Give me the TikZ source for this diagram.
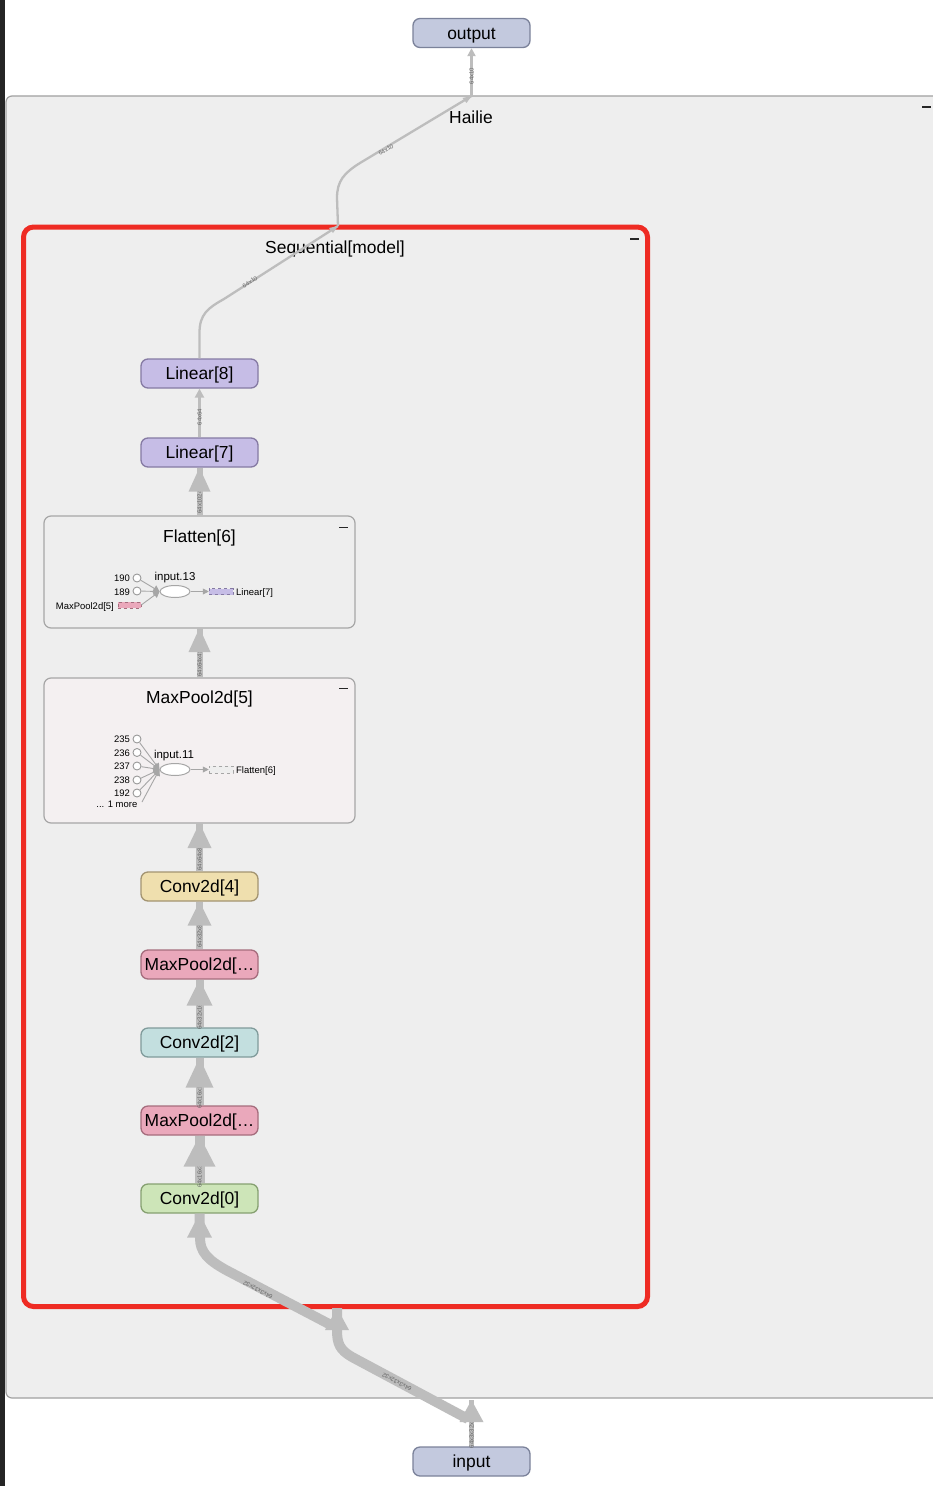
\documentclass[tikz,border=0pt]{standalone}
\usepackage{fontspec}
\setmainfont{Liberation Sans}
\usetikzlibrary{arrows.meta,shapes.geometric,calc}
\definecolor{edgegray}{HTML}{BDBDBD}
\definecolor{clusterbg}{HTML}{EEEEEE}
\definecolor{clusterline}{HTML}{A0A0A0}
\definecolor{redbox}{HTML}{EE2B23}
\definecolor{iofill}{HTML}{C3C9DE}\definecolor{ioline}{HTML}{7B829A}
\definecolor{linfill}{HTML}{C6BDE6}\definecolor{linline}{HTML}{857AA3}
\definecolor{c4fill}{HTML}{EFDFAE}\definecolor{c4line}{HTML}{A39471}
\definecolor{mpfill}{HTML}{EAA8BB}\definecolor{mpline}{HTML}{A56D7D}
\definecolor{c2fill}{HTML}{C3DFDF}\definecolor{c2line}{HTML}{809B9B}
\definecolor{c0fill}{HTML}{CDE5B8}\definecolor{c0line}{HTML}{86A071}
\definecolor{mp5fill}{HTML}{F4F0F1}
\definecolor{strip}{HTML}{252525}
\tikzset{
  opnode/.style={draw, rounded corners=7bp, minimum width=117bp, minimum height=29bp, line width=1.3bp, inner sep=0pt, text height=12.5bp, text depth=0bp, font=\fontsize{17.5}{20}\selectfont},
  band/.style={draw=edgegray, line cap=butt},
  tipc/.style={draw=none, fill=edgegray},
  elab/.style={font=\fontsize{6}{7}\selectfont, text=black!60, inner sep=0pt},
  title/.style={font=\fontsize{17.5}{20}\selectfont, inner sep=0pt, text height=12.5bp, text depth=0bp},
  mini/.style={draw=black!35, line width=0.9bp},
  port/.style={circle, draw=black!40, fill=white, line width=0.9bp, minimum size=8bp, inner sep=0pt},
  small/.style={font=\fontsize{9.5}{11}\selectfont, inner sep=0pt, text height=7bp, text depth=0bp},
  smallmid/.style={font=\fontsize{11.5}{13}\selectfont, inner sep=0pt, text height=8.5bp, text depth=0bp},
  minus/.style={fill=black!85, minimum width=9bp, minimum height=1.6bp, inner sep=0pt},
}
\begin{document}
\begin{tikzpicture}[x=1bp,y=-1bp]
\useasboundingbox (0,0) rectangle (932,1486);
\fill[white] (0,0) rectangle (932,1486);
\fill[strip] (0,0) rectangle (5,1486);
% Hailie cluster
\draw[fill=clusterbg, draw=clusterline, line width=1.2bp, rounded corners=6bp] (6,96) rectangle (950,1398);
\node[title] (hailie) at (471,117) {Hailie};
\node[minus] (hmin) at (926,107) {};
% Sequential cluster
\draw[fill=clusterbg, draw=redbox, line width=5bp, rounded corners=10bp] (23.5,227) rectangle (647.5,1306.5);
\node[title] (seq) at (335,247.5) {Sequential[model]};
\node[minus] (smin) at (634,239) {};
% Flatten box
\draw[fill=clusterbg, draw=black!35, line width=1.2bp, rounded corners=7bp] (44,516) rectangle (355,628);
\node[title] (flt) at (199.5,536) {Flatten[6]};
\node[minus] (fmin) at (343,527.5) {};
\coordinate (fltbot) at (199.5,628);
\coordinate (flttop) at (199.5,516);
% MaxPool2d[5] box
\draw[fill=mp5fill, draw=black!35, line width=1.2bp, rounded corners=7bp] (44,678) rectangle (355,823);
\node[title] (mp5) at (199.5,697) {MaxPool2d[5]};
\node[minus] (mmin) at (343,688.5) {};
\coordinate (mp5bot) at (199.5,823);
\coordinate (mp5top) at (199.5,678);
% op nodes
\node[opnode, fill=iofill, draw=ioline] (out) at (471.5,33) {output};
\node[opnode, fill=iofill, draw=ioline] (inp) at (471.5,1461.5) {input};
\node[opnode, fill=linfill, draw=linline] (l8) at (199.5,373.5) {Linear[8]};
\node[opnode, fill=linfill, draw=linline] (l7) at (199.5,452.5) {Linear[7]};
\node[opnode, fill=c4fill, draw=c4line] (c4) at (199.5,886.5) {Conv2d[4]};
\node[opnode, fill=mpfill, draw=mpline] (mp3) at (199.5,964.5) {MaxPool2d[…};
\node[opnode, fill=c2fill, draw=c2line] (c2) at (199.5,1042.5) {Conv2d[2]};
\node[opnode, fill=mpfill, draw=mpline] (mp1) at (199.5,1120.5) {MaxPool2d[…};
\node[opnode, fill=c0fill, draw=c0line] (c0) at (199.5,1198.5) {Conv2d[0]};
% ports
\coordinate (htop) at (471.5,96);
\coordinate (stop) at (338,226);
\coordinate (sbot) at (337,1308);
\coordinate (hbot) at (471.5,1400);
% ---- edges (top part) ----
\draw[band, line width=2.3bp] (l8.north) -- (199.5,333) .. controls (199.5,314) and (208,308) .. (224,299) -- (stop);
\fill[edgegray] (stop) -- ++(-9,2) -- ++(4,5) -- cycle;
\node[elab, rotate=32] at (250,282) {64x10};
\draw[band, line width=2.3bp] (stop) -- (337,198) .. controls (337,181) and (344,173) .. (360,163) -- (htop);
\fill[edgegray] (htop) -- ++(-9,2) -- ++(4,5) -- cycle;
\node[elab, rotate=31] at (386,150) {64x10};
\draw[band, line width=2.3bp, -{Triangle[length=8bp,width=8bp]}] (htop) -- (out.south);
\node[elab, rotate=90] at (471.5,76) {64x10};
\draw[band, line width=2.8bp, -{Triangle[length=9bp,width=9bp]}] (l7.north) -- (l8.south);
\node[elab, rotate=90] at (199.5,417) {64x64};
% vertical thick edges: band, label, tip
\draw[band, line width=6bp] (flttop) -- (l7.south);
\node[elab, rotate=90] at (199.5,502) {64x1024};
\draw[tipc] (l7.south) -- ++(-11,24) -- ++(22,0) -- cycle;
\draw[band, line width=6bp] (mp5top) -- (fltbot);
\node[elab, rotate=90] at (199.5,662) {64x64x4x4};
\draw[tipc] (fltbot) -- ++(-11,24) -- ++(22,0) -- cycle;
\draw[band, line width=7bp] (c4.north) -- (mp5bot);
\node[elab, rotate=90] at (199.5,856) {64x64x8x8};
\draw[tipc] (mp5bot) -- ++(-12,25) -- ++(24,0) -- cycle;
\draw[band, line width=7bp] (mp3.north) -- (c4.south);
\node[elab, rotate=90] at (199.5,933) {64x32x8x8};
\draw[tipc] (c4.south) -- ++(-12,24) -- ++(24,0) -- cycle;
\draw[band, line width=8bp] (c2.north) -- (mp3.south);
\node[elab, rotate=90] at (199.5,1012) {64x32x16x16};
\draw[tipc] (mp3.south) -- ++(-13,26) -- ++(26,0) -- cycle;
\draw[band, line width=8bp] (mp1.north) -- (c2.south);
\node[elab, rotate=90] at (199.5,1091) {64x16x16x16};
\draw[tipc] (c2.south) -- ++(-14,30) -- ++(28,0) -- cycle;
\draw[band, line width=10bp] (c0.north) -- (mp1.south);
\node[elab, rotate=90] at (199.5,1170) {64x16x32x32};
\draw[tipc] (mp1.south) -- ++(-16,31) -- ++(32,0) -- cycle;
% bottom edges
\draw[band, line width=5bp] (inp.north) -- (hbot);
\node[elab, rotate=90] at (471.5,1432) {64x3x32x32};
\draw[tipc] (hbot) -- ++(-12,22) -- ++(24,0) -- cycle;
\draw[band, line width=10bp] (468,1419) -- (352,1357) .. controls (340,1350) and (337,1344) .. (337,1330) -- (sbot);
\node[elab, rotate=152] at (397,1382) {64x3x32x32};
\draw[tipc] (sbot) -- ++(-12,22) -- ++(24,0) -- cycle;
\draw[band, line width=10bp] (331,1325) -- (226,1270) .. controls (208,1260) and (200,1252) .. (200,1238) -- (c0.south);
\node[elab, rotate=152] at (258,1290) {64x3x32x32};
\draw[tipc] (c0.south) -- ++(-12.5,24) -- ++(25,0) -- cycle;
% ---- Flatten inner graph ----
\node[port] (f190) at (137,578) {};
\node[small, anchor=east] at (130,578) {190};
\node[port] (f189) at (137,591) {};
\node[small, anchor=east] at (130,591.5) {189};
\node[draw=mpline, dashed, fill=mpfill, line width=0.5bp, minimum width=23bp, minimum height=6bp, inner sep=0pt] (fmp) at (129.5,605) {};
\node[small, anchor=east] at (114,605.5) {MaxPool2d[5]};
\node[ellipse, draw=black!35, fill=white, line width=1bp, minimum width=30bp, minimum height=12bp, inner sep=0pt] (fell) at (175,591.5) {};
\node[smallmid] at (175,576.5) {input.13};
\draw[mini, -{Triangle[length=6bp,width=7bp]}] (f190) -- (fell.west);
\draw[mini, -{Triangle[length=6bp,width=7bp]}] (f189) -- (fell.west);
\draw[mini, -{Triangle[length=6bp,width=7bp]}] (fmp.east) -- (fell.west);
\node[draw=linline, dashed, fill=linfill, line width=0.5bp, minimum width=24bp, minimum height=6bp, inner sep=0pt] (flin) at (221,591.5) {};
\draw[mini, -{Triangle[length=6bp,width=6bp]}] (fell.east) -- (flin.west);
\node[small, anchor=west] at (236,592) {Linear[7]};
% ---- MaxPool inner graph ----
\node[port] (m235) at (137,739) {};
\node[small, anchor=east] at (130,739) {235};
\node[port] (m236) at (137,752.5) {};
\node[small, anchor=east] at (130,752.5) {236};
\node[port] (m237) at (137,766) {};
\node[small, anchor=east] at (130,766) {237};
\node[port] (m238) at (137,780) {};
\node[small, anchor=east] at (130,780) {238};
\node[port] (m192) at (137,793) {};
\node[small, anchor=east] at (130,793) {192};
\node[small, anchor=east] (more) at (137.5,803.5) {... 1 more};
\coordinate (moreend) at (142,802);
\node[ellipse, draw=black!35, fill=white, line width=1bp, minimum width=30bp, minimum height=12bp, inner sep=0pt] (mell) at (175,769.5) {};
\node[smallmid] at (174,754.5) {input.11};
\foreach \p in {m235,m236,m237,m238,m192,moreend}
  \draw[mini, -{Triangle[length=6bp,width=7bp]}] (\p) -- (mell.west);
\node[draw=black!35, dashed, fill=clusterbg, line width=0.5bp, minimum width=24bp, minimum height=7bp, inner sep=0pt] (mflt) at (221,769.5) {};
\draw[mini, -{Triangle[length=6bp,width=6bp]}] (mell.east) -- (mflt.west);
\node[small, anchor=west] at (236,770) {Flatten[6]};
\end{tikzpicture}
\end{document}
